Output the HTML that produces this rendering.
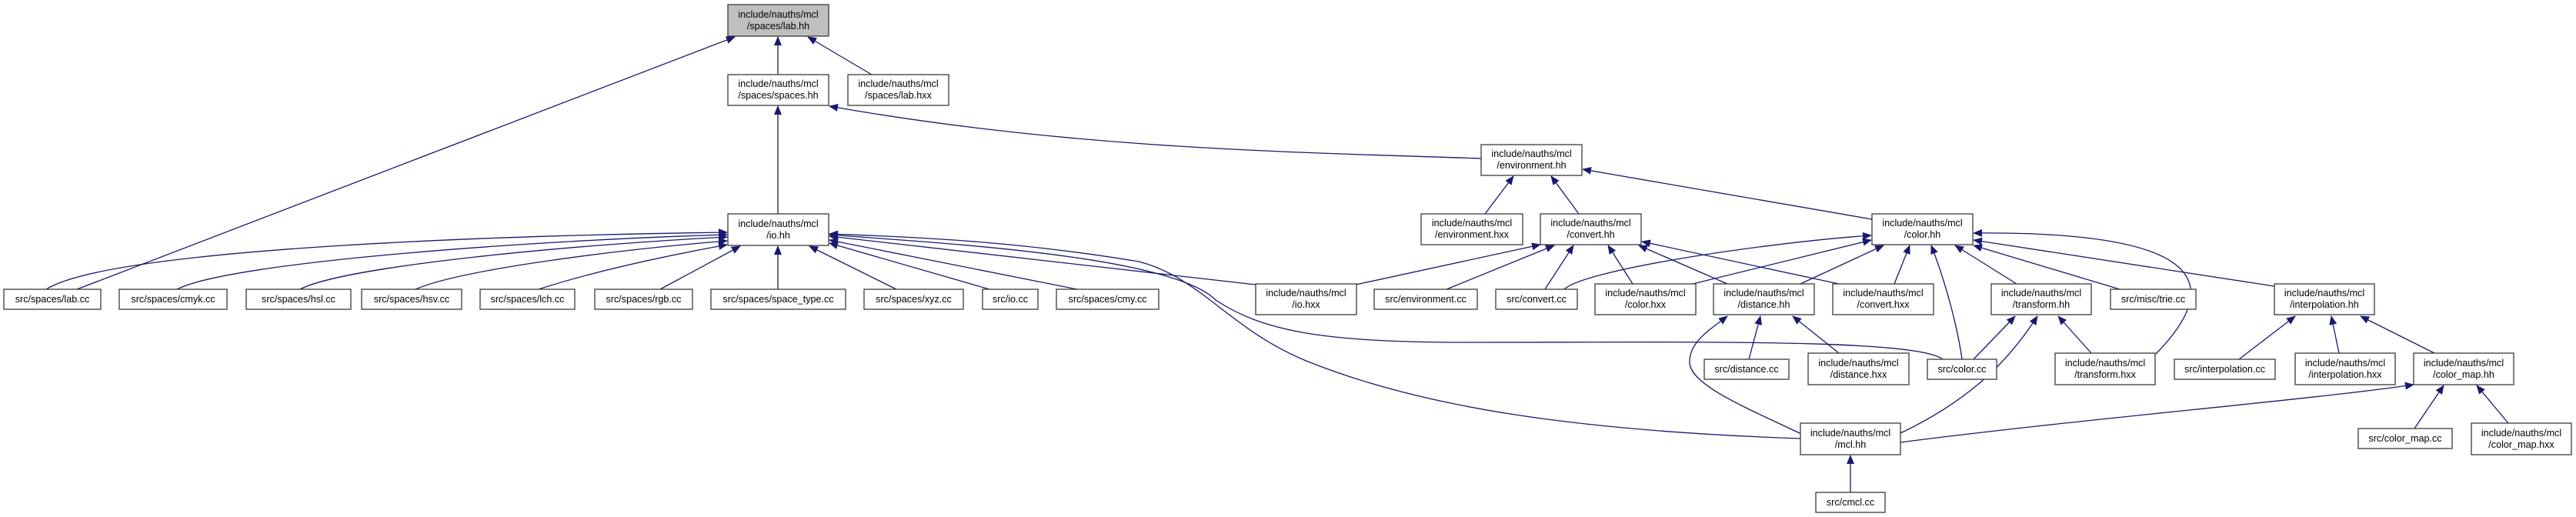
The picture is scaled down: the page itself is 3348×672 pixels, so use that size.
<!DOCTYPE html>
<html><head><meta charset="utf-8"><style>
html,body{margin:0;padding:0;background:#fff;}
svg{display:block;}
text{font-family:"Liberation Sans",sans-serif;font-size:12.6px;fill:#000;text-anchor:middle;}
.n{fill:#fff;stroke:#3a3a3a;stroke-width:1.3;}
.e{fill:none;stroke:#191970;stroke-width:1.3;}
</style></head><body>
<svg width="3348" height="672" viewBox="0 0 3348 672" xmlns="http://www.w3.org/2000/svg">
<defs><marker id="a" markerWidth="12" markerHeight="10" refX="11" refY="5" orient="auto" markerUnits="userSpaceOnUse"><path d="M0,0 L12,5 L0,10 z" fill="#191970"/></marker></defs>
<g class="e" marker-end="url(#a)">
<path d="M1011,97 L1011,48"/>
<path d="M1133,97 L1050,48"/>
<path d="M100,376 L955,48"/>
<path d="M1011,278 L1011,138"/>
<path d="M1925,206 C1700,198 1400,195 1078,138"/>
<path d="M60,376 C150,320 700,305 945,302"/>
<path d="M230,376 C300,340 700,312 945,305"/>
<path d="M390,376 C450,345 750,318 945,308"/>
<path d="M540,376 C600,350 800,325 945,313"/>
<path d="M700,376 C780,350 880,330 945,318"/>
<path d="M858,376 L962,320"/>
<path d="M1011,376 L1011,320"/>
<path d="M1165,376 L1052,320"/>
<path d="M1286,376 L1078,316"/>
<path d="M1400,376 L1078,312"/>
<path d="M1632,370 L1078,307"/>
<path d="M2525,467 C2490,440 2200,445 1900,445 C1720,445 1640,430 1580,390 C1520,330 1200,315 1078,305"/>
<path d="M2340,570 C2050,560 1850,530 1700,470 C1600,430 1560,360 1480,340 C1300,310 1150,307 1078,304"/>
<path d="M1930,278 L1967,229"/>
<path d="M2052,278 L2016,229"/>
<path d="M2433,285 L2057,220"/>
<path d="M1762,370 L2002,318"/>
<path d="M1880,376 L2020,319"/>
<path d="M2008,376 L2045,319"/>
<path d="M2122,369 L2090,319"/>
<path d="M2245,369 L2130,319"/>
<path d="M2390,369 L2134,314"/>
<path d="M2033,376 C2060,350 2300,315 2432,306"/>
<path d="M2200,369 L2432,312"/>
<path d="M2340,369 L2448,319"/>
<path d="M2462,369 L2482,319"/>
<path d="M2550,467 C2545,430 2530,370 2510,319"/>
<path d="M2621,369 L2541,319"/>
<path d="M2755,376 L2565,319"/>
<path d="M2956,372 L2565,312"/>
<path d="M2802,460 C2890,370 2870,300 2565,303"/>
<path d="M2273,467 L2288,411"/>
<path d="M2390,459 L2330,411"/>
<path d="M2341,564 C2270,530 2195,500 2196,470 C2196,445 2220,430 2245,411"/>
<path d="M2565,467 L2619,411"/>
<path d="M2718,459 L2675,411"/>
<path d="M2470,563 C2560,520 2610,470 2648,411"/>
<path d="M2910,467 L2983,411"/>
<path d="M3040,459 L3030,411"/>
<path d="M3164,459 L3068,411"/>
<path d="M3138,557 L3176,501"/>
<path d="M3260,550 L3219,501"/>
<path d="M2470,575 C2700,545 3000,520 3137,500"/>
<path d="M2405,640 L2405,592"/>
</g>
<g>
<rect class="n" x="946" y="6" width="131" height="41" style="fill:#bfbfbf"/><text x="1011.5" y="23">include/nauths/mcl</text><text x="1011.5" y="38">/spaces/lab.hh</text>
<rect class="n" x="946" y="97" width="131" height="40"/><text x="1011.5" y="113">include/nauths/mcl</text><text x="1011.5" y="128">/spaces/spaces.hh</text>
<rect class="n" x="1102" y="97" width="131" height="40"/><text x="1167.5" y="113">include/nauths/mcl</text><text x="1167.5" y="128">/spaces/lab.hxx</text>
<rect class="n" x="946" y="278" width="131" height="41"/><text x="1011.5" y="295">include/nauths/mcl</text><text x="1011.5" y="310">/io.hh</text>
<rect class="n" x="1925" y="188" width="131" height="40"/><text x="1990.5" y="204">include/nauths/mcl</text><text x="1990.5" y="219">/environment.hh</text>
<rect class="n" x="5" y="376" width="126" height="26"/><text x="68" y="393">src/spaces/lab.cc</text>
<rect class="n" x="155" y="376" width="140" height="26"/><text x="225" y="393">src/spaces/cmyk.cc</text>
<rect class="n" x="320" y="376" width="136" height="26"/><text x="388" y="393">src/spaces/hsl.cc</text>
<rect class="n" x="470" y="376" width="130" height="26"/><text x="535" y="393">src/spaces/hsv.cc</text>
<rect class="n" x="624" y="376" width="123" height="26"/><text x="685.5" y="393">src/spaces/lch.cc</text>
<rect class="n" x="773" y="376" width="127" height="26"/><text x="836.5" y="393">src/spaces/rgb.cc</text>
<rect class="n" x="924" y="376" width="175" height="26"/><text x="1011.5" y="393">src/spaces/space_type.cc</text>
<rect class="n" x="1123" y="376" width="129" height="26"/><text x="1187.5" y="393">src/spaces/xyz.cc</text>
<rect class="n" x="1277" y="376" width="72" height="26"/><text x="1313" y="393">src/io.cc</text>
<rect class="n" x="1373" y="376" width="133" height="26"/><text x="1439.5" y="393">src/spaces/cmy.cc</text>
<rect class="n" x="1632" y="369" width="131" height="40"/><text x="1697.5" y="385">include/nauths/mcl</text><text x="1697.5" y="400">/io.hxx</text>
<rect class="n" x="1786" y="376" width="134" height="26"/><text x="1853" y="393">src/environment.cc</text>
<rect class="n" x="1847" y="278" width="132" height="40"/><text x="1913" y="294">include/nauths/mcl</text><text x="1913" y="309">/environment.hxx</text>
<rect class="n" x="2002" y="278" width="131" height="40"/><text x="2067.5" y="294">include/nauths/mcl</text><text x="2067.5" y="309">/convert.hh</text>
<rect class="n" x="2433" y="278" width="131" height="40"/><text x="2498.5" y="294">include/nauths/mcl</text><text x="2498.5" y="309">/color.hh</text>
<rect class="n" x="1944" y="376" width="106" height="26"/><text x="1997" y="393">src/convert.cc</text>
<rect class="n" x="2073" y="369" width="131" height="40"/><text x="2138.5" y="385">include/nauths/mcl</text><text x="2138.5" y="400">/color.hxx</text>
<rect class="n" x="2227" y="369" width="131" height="40"/><text x="2292.5" y="385">include/nauths/mcl</text><text x="2292.5" y="400">/distance.hh</text>
<rect class="n" x="2382" y="369" width="131" height="40"/><text x="2447.5" y="385">include/nauths/mcl</text><text x="2447.5" y="400">/convert.hxx</text>
<rect class="n" x="2588" y="369" width="130" height="40"/><text x="2653" y="385">include/nauths/mcl</text><text x="2653" y="400">/transform.hh</text>
<rect class="n" x="2743" y="376" width="111" height="26"/><text x="2798.5" y="393">src/misc/trie.cc</text>
<rect class="n" x="2956" y="369" width="130" height="40"/><text x="3021" y="385">include/nauths/mcl</text><text x="3021" y="400">/interpolation.hh</text>
<rect class="n" x="2215" y="467" width="110" height="26"/><text x="2270" y="484">src/distance.cc</text>
<rect class="n" x="2350" y="459" width="131" height="41"/><text x="2415.5" y="476">include/nauths/mcl</text><text x="2415.5" y="491">/distance.hxx</text>
<rect class="n" x="2505" y="467" width="90" height="26"/><text x="2550" y="484">src/color.cc</text>
<rect class="n" x="2671" y="459" width="130" height="41"/><text x="2736" y="476">include/nauths/mcl</text><text x="2736" y="491">/transform.hxx</text>
<rect class="n" x="2826" y="467" width="131" height="26"/><text x="2891.5" y="484">src/interpolation.cc</text>
<rect class="n" x="2983" y="459" width="130" height="41"/><text x="3048" y="476">include/nauths/mcl</text><text x="3048" y="491">/interpolation.hxx</text>
<rect class="n" x="3137" y="459" width="130" height="41"/><text x="3202" y="476">include/nauths/mcl</text><text x="3202" y="491">/color_map.hh</text>
<rect class="n" x="2340" y="550" width="130" height="41"/><text x="2405" y="567">include/nauths/mcl</text><text x="2405" y="582">/mcl.hh</text>
<rect class="n" x="3065" y="557" width="122" height="26"/><text x="3126" y="574">src/color_map.cc</text>
<rect class="n" x="3212" y="550" width="130" height="41"/><text x="3277" y="567">include/nauths/mcl</text><text x="3277" y="582">/color_map.hxx</text>
<rect class="n" x="2360" y="640" width="90" height="26"/><text x="2405" y="657">src/cmcl.cc</text>
</g>
</svg>
</body></html>
